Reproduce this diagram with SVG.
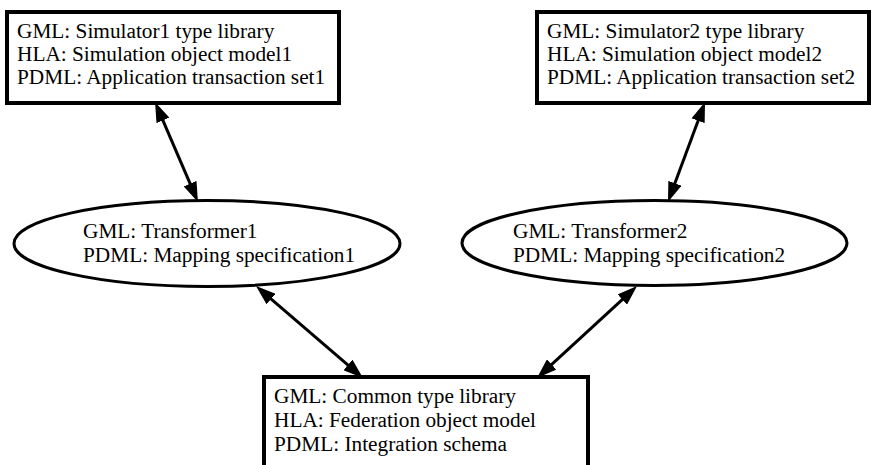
<svg xmlns="http://www.w3.org/2000/svg" width="871" height="465" viewBox="0 0 871 465">
  <defs>
    <style>
      .box { fill: #fff; stroke: #000; stroke-width: 4; }
      .oval { fill: #fff; stroke: #000; stroke-width: 3; }
      .lbl { font-family: "Liberation Serif", "Times New Roman", serif; font-size: 21.3px; fill: #000; }
      .link { stroke: #000; stroke-width: 3; fill: none; marker-start: url(#head); marker-end: url(#head); }
    </style>
    <marker id="head" markerUnits="userSpaceOnUse" markerWidth="20" markerHeight="14" refX="11" refY="7" orient="auto-start-reverse">
      <path d="M0,0 L20,7 L0,14 z" fill="#000"/>
    </marker>
  </defs>
  <rect width="871" height="465" fill="#fff"/>

  <!-- two-way links between the models -->
  <g id="connectors">
    <line class="link" x1="158.6" y1="110.3" x2="194.4" y2="193.7"/>
    <line class="link" x1="701.9" y1="110.4" x2="671.1" y2="193.6"/>
    <line class="link" x1="262.8" y1="291.9" x2="356.2" y2="372.1"/>
    <line class="link" x1="630.4" y1="292.1" x2="543.6" y2="371.9"/>
  </g>

  <g id="sim1-library">
    <rect class="box" x="7" y="12" width="332" height="91"/>
    <text class="lbl" x="17" y="38">GML: Simulator1 type library</text>
    <text class="lbl" x="17" y="61">HLA: Simulation object model1</text>
    <text class="lbl" x="17" y="84">PDML: Application transaction set1</text>
  </g>

  <g id="sim2-library">
    <rect class="box" x="537" y="12" width="332" height="91"/>
    <text class="lbl" x="547" y="38">GML: Simulator2 type library</text>
    <text class="lbl" x="547" y="61">HLA: Simulation object model2</text>
    <text class="lbl" x="547" y="84">PDML: Application transaction set2</text>
  </g>

  <g id="transformer1">
    <ellipse class="oval" cx="207" cy="243.5" rx="193" ry="43"/>
    <text class="lbl" x="83" y="237.5">GML: Transformer1</text>
    <text class="lbl" x="83" y="262">PDML: Mapping specification1</text>
  </g>

  <g id="transformer2">
    <ellipse class="oval" cx="654.5" cy="243" rx="192.5" ry="42.5"/>
    <text class="lbl" x="513" y="237.5">GML: Transformer2</text>
    <text class="lbl" x="513" y="262">PDML: Mapping specification2</text>
  </g>

  <g id="common-library">
    <rect class="box" x="264" y="377" width="324" height="120"/>
    <text class="lbl" x="274" y="402.5">GML: Common type library</text>
    <text class="lbl" x="274" y="426.5">HLA: Federation object model</text>
    <text class="lbl" x="274" y="450.5">PDML: Integration schema</text>
  </g>
</svg>
